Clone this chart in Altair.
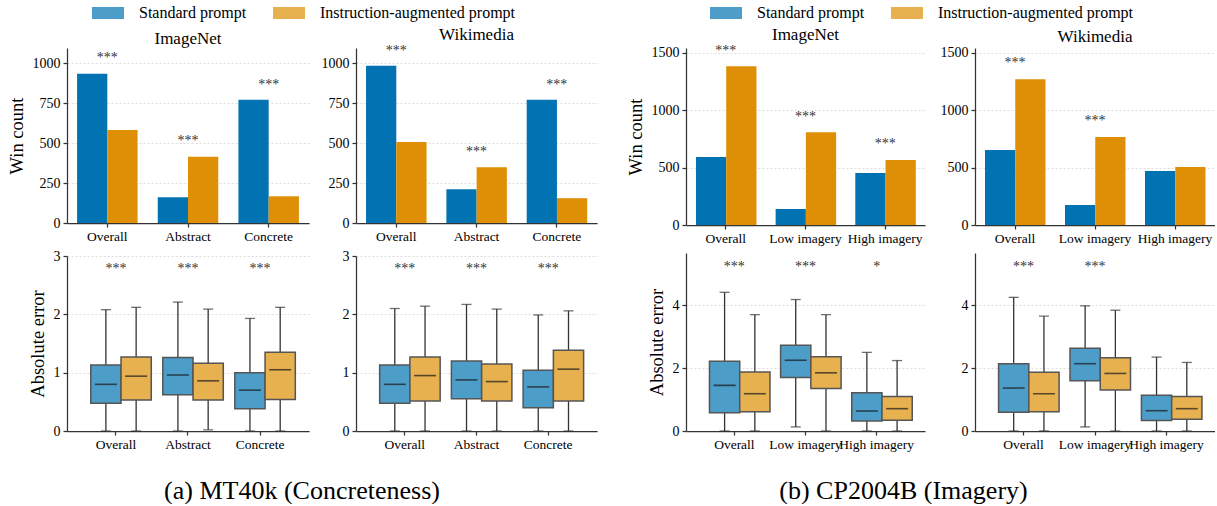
import altair as alt
import pandas as pd

prompts = ["Standard prompt", "Instruction-augmented prompt"]
bar_colors = ["#0173b2", "#de8f05"]
box_colors = ["#4d9dc9", "#e8b150"]

cats_a = ["Overall", "Abstract", "Concrete"]
cats_b = ["Overall", "Low imagery", "High imagery"]

# ---- Win counts (standard, instruction-augmented) ----
winA_img_std = [933, 161, 770]
winA_img_ins = [582, 414, 167]
winA_wiki_std = [983, 211, 770]
winA_wiki_ins = [506, 349, 155]
winB_img_std = [591, 139, 452]
winB_img_ins = [1381, 808, 565]
winB_wiki_std = [652, 174, 469]
winB_wiki_ins = [1268, 765, 504]

# significance marks above bar groups
sigA_img = ["***", "***", "***"]
sigA_img_y = [1041, 523, 878]
sigA_wiki = ["***", "***", "***"]
sigA_wiki_y = [1088, 456, 878]
sigB_img = ["***", "***", "***"]
sigB_img_y = [1529, 956, 724]
sigB_wiki = ["***", "***", ""]
sigB_wiki_y = [1425, 918, 0]

# ---- Absolute error box stats: (whisker low, q1, median, q3, whisker high) ----
absA_img_std = [(0, 0.475, 0.80, 1.13, 2.08), (0, 0.62, 0.96, 1.26, 2.21), (0, 0.38, 0.70, 1.00, 1.93)]
absA_img_ins = [(0, 0.53, 0.94, 1.27, 2.12), (0.02, 0.53, 0.86, 1.16, 2.09), (0, 0.54, 1.05, 1.35, 2.12)]
absA_wiki_std = [(0, 0.475, 0.80, 1.13, 2.10), (0, 0.555, 0.876, 1.20, 2.17), (0, 0.40, 0.756, 1.04, 1.99)]
absA_wiki_ins = [(0, 0.515, 0.95, 1.27, 2.14), (0, 0.515, 0.847, 1.15, 2.09), (0, 0.515, 1.06, 1.385, 2.06)]
absB_img_std = [(0, 0.58, 1.45, 2.22, 4.41), (0.13, 1.70, 2.25, 2.73, 4.18), (0, 0.32, 0.635, 1.22, 2.50)]
absB_img_ins = [(0, 0.61, 1.185, 1.88, 3.70), (0, 1.35, 1.85, 2.36, 3.70), (0, 0.34, 0.71, 1.10, 2.24)]
absB_wiki_std = [(0, 0.60, 1.365, 2.14, 4.25), (0.13, 1.60, 2.14, 2.63, 3.98), (0, 0.33, 0.645, 1.14, 2.35)]
absB_wiki_ins = [(0, 0.61, 1.185, 1.87, 3.65), (0, 1.30, 1.83, 2.33, 3.84), (0, 0.37, 0.71, 1.10, 2.18)]

sigA_abs = ["***", "***", "***"]
sigA_abs_y = [2.82, 2.82, 2.82]
sigB_img_abs = ["***", "***", "*"]
sigB_img_abs_y = [5.29, 5.29, 5.29]
sigB_wiki_abs = ["***", "***", ""]
sigB_wiki_abs_y = [5.29, 5.29, 0]

SERIF = "Liberation Serif"


def x_axis():
    return alt.Axis(title=None, labelFont=SERIF, labelFontSize=13.5, labelColor="black",
                    labelAngle=0, labelPadding=2, labelOverlap=False, grid=False)


def y_axis(values, title):
    if title is None:
        return alt.Axis(values=values, title=None, format="d", labelFont=SERIF,
                        labelFontSize=14, labelColor="black", labelPadding=3, grid=True)
    return alt.Axis(values=values, title=title, format="d", labelFont=SERIF,
                    labelFontSize=14, labelColor="black", labelPadding=3, grid=True,
                    titleFont=SERIF, titleFontSize=18.5, titleFontWeight="normal",
                    titleColor="black", titlePadding=6)


def star_layer(cats, labels, ys, x, Y):
    sdf = pd.DataFrame({"cat": cats, "label": labels, "v": ys})
    sdf = sdf[sdf["label"] != ""]
    return alt.Chart(sdf).mark_text(font=SERIF, fontSize=14, color="#333333",
                                    baseline="middle", dy=2).encode(
        x=x, y=Y("v"), text="label:N")


def bar_panel(cats, std, ins, sig, sig_y, ymax, yticks, title, ytitle, w, h):
    df = pd.DataFrame({
        "cat": cats + cats,
        "prompt": [prompts[0]] * len(cats) + [prompts[1]] * len(cats),
        "v": std + ins,
    })
    x = alt.X("cat:N", sort=cats,
              scale=alt.Scale(domain=cats, paddingInner=0.25, paddingOuter=0.125),
              axis=x_axis())
    yscale = alt.Scale(domain=[0, ymax], nice=False)
    yaxis = y_axis(yticks, ytitle)

    def Y(f):
        return alt.Y(f"{f}:Q", scale=yscale, axis=yaxis)

    bars = alt.Chart(df).mark_bar().encode(
        x=x,
        xOffset=alt.XOffset("prompt:N", sort=prompts,
                            scale=alt.Scale(domain=prompts, paddingInner=0, paddingOuter=0)),
        y=Y("v"),
        color=alt.Color("prompt:N", scale=alt.Scale(domain=prompts, range=bar_colors), legend=None),
    )
    text = star_layer(cats, sig, sig_y, x, Y)
    return alt.layer(bars, text).properties(
        width=w, height=h,
        title=alt.TitleParams(title, frame="group", anchor="middle", offset=0,
                              font=SERIF, fontSize=17, fontWeight="normal", color="black"))


def box_panel(cats, std, ins, sig, sig_y, ymax, yticks, ytitle, w, h, legend=None):
    rows = []
    for p, stats in zip(prompts, [std, ins]):
        for c, (lo, q1, med, q3, hi) in zip(cats, stats):
            rows.append(dict(cat=c, prompt=p, lo=lo, q1=q1, med=med, q3=q3, hi=hi))
    df = pd.DataFrame(rows)
    x = alt.X("cat:N", sort=cats,
              scale=alt.Scale(domain=cats, paddingInner=0.3, paddingOuter=0.33),
              axis=x_axis())
    xo = alt.XOffset("prompt:N", sort=prompts,
                     scale=alt.Scale(domain=prompts, paddingInner=0.1, paddingOuter=0.05))
    yscale = alt.Scale(domain=[0, ymax], nice=False)
    yaxis = y_axis(yticks, ytitle)

    def Y(f):
        return alt.Y(f"{f}:Q", scale=yscale, axis=yaxis)

    base = alt.Chart(df)
    whisk = base.mark_rule(color="#333333", strokeWidth=1.3).encode(
        x=x, xOffset=xo, y=Y("lo"), y2="hi:Q")
    if legend is None:
        fill = alt.Fill("prompt:N", scale=alt.Scale(domain=prompts, range=box_colors), legend=None)
    else:
        fill = alt.Fill("prompt:N", scale=alt.Scale(domain=prompts, range=box_colors), legend=legend)
    box = base.mark_bar(stroke="#555555", strokeWidth=1.5).encode(
        x=x, xOffset=xo, y=Y("q1"), y2="q3:Q", fill=fill)
    med = base.mark_tick(color="#1a1a1a", thickness=1.6, size=22).encode(
        x=x, xOffset=xo, y=Y("med"))
    cap_hi = base.mark_tick(color="#333333", thickness=1.3, size=10).encode(
        x=x, xOffset=xo, y=Y("hi"))
    cap_lo = base.mark_tick(color="#333333", thickness=1.3, size=10).encode(
        x=x, xOffset=xo, y=Y("lo"))
    text = star_layer(cats, sig, sig_y, x, Y)
    return alt.layer(whisk, box, med, cap_hi, cap_lo, text).properties(width=w, height=h)


def make_legend(lx, ly):
    # wide rectangular swatch (32 x 12 px) drawn from a 12px symbol box
    return alt.Legend(
        title=None, orient="none", legendX=lx, legendY=ly, direction="horizontal",
        symbolType="M-2.667,-1H2.667V1H-2.667Z", symbolSize=144, symbolStrokeWidth=0,
        symbolOpacity=1, labelFont=SERIF, labelFontSize=16, labelColor="black",
        labelLimit=400, labelOffset=23, columnPadding=25, padding=0)


# ---- group (a) ----
tA1 = bar_panel(cats_a, winA_img_std, winA_img_ins, sigA_img, sigA_img_y, 1094,
                [0, 250, 500, 750, 1000], "ImageNet", "Win count", 242, 175)
tA2 = bar_panel(cats_a, winA_wiki_std, winA_wiki_ins, sigA_wiki, sigA_wiki_y, 1094,
                [0, 250, 500, 750, 1000], "Wikimedia", None, 241, 175)
bA1 = box_panel(cats_a, absA_img_std, absA_img_ins, sigA_abs, sigA_abs_y, 3,
                [0, 1, 2, 3], "Absolute error", 242, 175, legend=make_legend(33, -251))
bA2 = box_panel(cats_a, absA_wiki_std, absA_wiki_ins, sigA_abs, sigA_abs_y, 3,
                [0, 1, 2, 3], None, 241, 175)

groupA = alt.concat(tA1, tA2, bA1, bA2, columns=2,
                    spacing={"row": 33, "column": 47}, bounds="flush").properties(
    title=alt.TitleParams("(a) MT40k (Concreteness)", orient="bottom", anchor="middle",
                          font=SERIF, fontWeight="normal", color="black",
                          fontSize=26, offset=27, frame="bounds")
).resolve_legend(fill="independent")

# ---- group (b) ----
tB1 = bar_panel(cats_b, winB_img_std, winB_img_ins, sigB_img, sigB_img_y, 1540,
                [0, 500, 1000, 1500], "ImageNet", "Win count", 239, 177)
tB2 = bar_panel(cats_b, winB_wiki_std, winB_wiki_ins, sigB_wiki, sigB_wiki_y, 1540,
                [0, 500, 1000, 1500], "Wikimedia", None, 240, 177)
bB1 = box_panel(cats_b, absB_img_std, absB_img_ins, sigB_img_abs, sigB_img_abs_y, 5.66,
                [0, 2, 4], "Absolute error", 239, 178, legend=make_legend(32, -248))
bB2 = box_panel(cats_b, absB_wiki_std, absB_wiki_ins, sigB_wiki_abs, sigB_wiki_abs_y, 5.66,
                [0, 2, 4], None, 240, 178)

groupB = alt.concat(tB1, tB2, bB1, bB2, columns=2,
                    spacing={"row": 28, "column": 50}, bounds="flush").properties(
    title=alt.TitleParams("(b) CP2004B (Imagery)", orient="bottom", anchor="middle",
                          font=SERIF, fontWeight="normal", color="black",
                          fontSize=26, offset=27, frame="bounds", dx=-17)
).resolve_legend(fill="independent")

chart = alt.hconcat(groupA, groupB, spacing=29).resolve_legend(
    fill="independent"
).properties(
    padding={"left": 7, "top": 5, "right": 0, "bottom": 0}
).configure_view(stroke=None).configure_axis(
    domainColor="#333333", domainWidth=1.25, tickColor="#333333", tickWidth=1.25, tickSize=4,
    labelFont=SERIF, titleFont=SERIF, gridColor="#d4d4d4", gridDash=[2, 2], gridWidth=0.8,
).configure_title(
    font=SERIF, fontSize=17, fontWeight="normal", color="black",
)

chart.save("out.html", embed_options={"renderer": "svg", "actions": False})
